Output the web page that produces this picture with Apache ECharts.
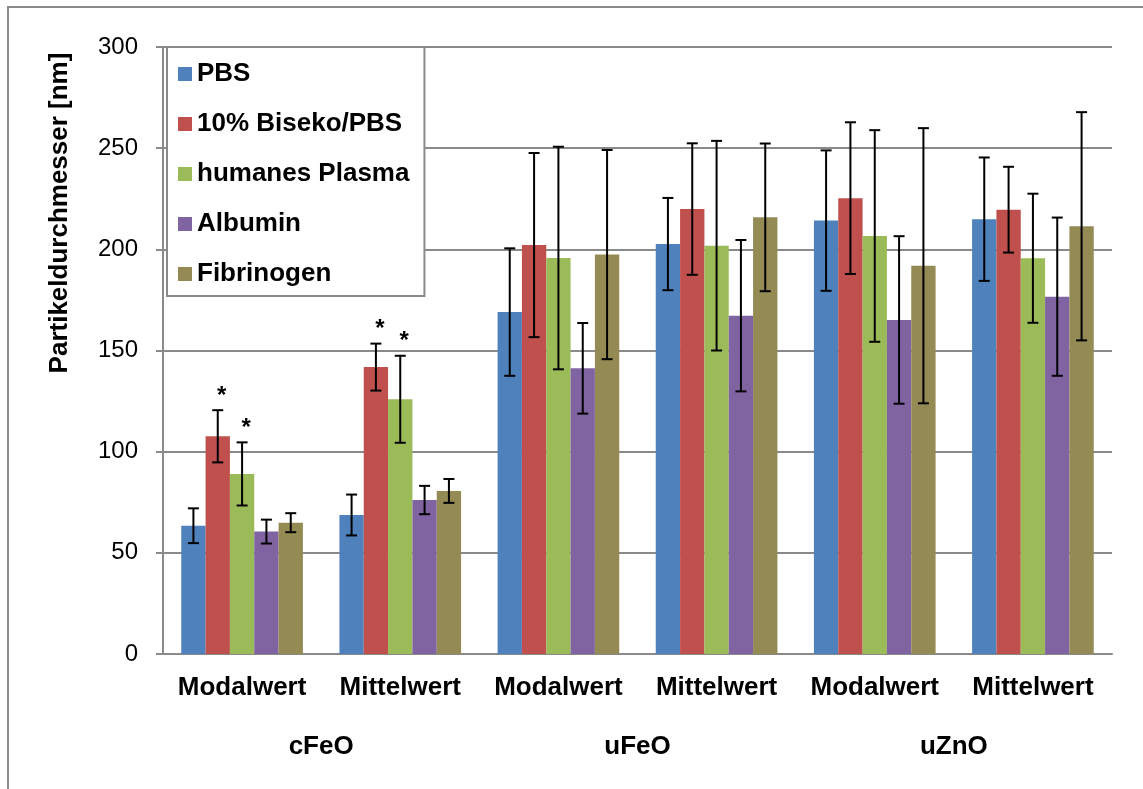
<!DOCTYPE html>
<html>
<head>
<meta charset="utf-8">
<script src="https://cdn.jsdelivr.net/npm/echarts@6/dist/echarts.min.js"></script>
<style>
  html, body { margin: 0; padding: 0; background: #fff; }
  #chart { width: 1143px; height: 789px; }
</style>
</head>
<body>
<div id="chart"></div>
<script>
// Particle diameters (nm): mode and mean per particle type and medium, with standard deviations
const categories = ['Modalwert', 'Mittelwert', 'Modalwert', 'Mittelwert', 'Modalwert', 'Mittelwert'];
const particles = ['cFeO', 'uFeO', 'uZnO'];
const seriesNames = ['PBS', '10% Biseko/PBS', 'humanes Plasma', 'Albumin', 'Fibrinogen'];
const yTicks = [0, 300, 50]; // min, max, step

const pbs = [63.4, 68.7, 169.0, 202.6, 214.2, 214.9];
const pbsSd = [8.6, 10.1, 31.5, 22.8, 34.7, 30.5];
const biseko = [107.6, 141.8, 202.1, 219.9, 225.3, 219.6];
const bisekoSd = [12.9, 11.6, 45.5, 32.5, 37.5, 21.2];
const plasma = [89.0, 125.9, 195.7, 201.8, 206.6, 195.6];
const plasmaSd = [15.6, 21.5, 55.0, 51.8, 52.3, 31.9];
const albumin = [60.5, 76.1, 141.2, 167.2, 165.1, 176.6];
const albuminSd = [5.9, 7.0, 22.4, 37.4, 41.4, 39.1];
const fibrinogen = [64.9, 80.6, 197.4, 215.8, 191.9, 211.4];
const fibrinogenSd = [4.7, 5.9, 51.7, 36.5, 68.0, 56.4];

// significant difference vs. PBS (marked with *)
const pbsSig = [0, 0, 0, 0, 0, 0];
const bisekoSig = [1, 1, 0, 0, 0, 0];
const plasmaSig = [1, 1, 0, 0, 0, 0];
const albuminSig = [0, 0, 0, 0, 0, 0];
const fibrinogenSig = [0, 0, 0, 0, 0, 0];

const means = [pbs, biseko, plasma, albumin, fibrinogen];
const sds = [pbsSd, bisekoSd, plasmaSd, albuminSd, fibrinogenSd];
const sigs = [pbsSig, bisekoSig, plasmaSig, albuminSig, fibrinogenSig];

const colors = ['#4F81BD', '#C0504D', '#9BBB59', '#8064A2', '#948A54'];
const GRAY = '#8a8a8a';
const FONT = '"Liberation Sans", Arial, sans-serif';
const CAT_GAP = 0.2308;

const chart = echarts.init(document.getElementById('chart'), null, { renderer: 'canvas' });

// error bar items: [category index, series index, mean, sd, significant]
const errData = [];
means.forEach((arr, s) => {
  arr.forEach((v, c) => errData.push([c, s, v, sds[s][c], sigs[s][c]]));
});

function renderErr(params, api) {
  const cat = api.value(0);
  const s = api.value(1);
  const mean = api.value(2);
  const sd = api.value(3);
  const sig = api.value(4);
  const n = seriesNames.length;
  const catW = api.size([1, 0])[0];
  const barW = catW * (1 - CAT_GAP) / n;
  const cx = api.coord([cat, 0])[0] + (s - (n - 1) / 2) * barW;
  const yTop = api.coord([cat, mean + sd])[1];
  const yBot = api.coord([cat, mean - sd])[1];
  const cap = 5.5;
  const st = { stroke: '#000', lineWidth: 2 };
  const children = [
    { type: 'line', shape: { x1: cx, y1: yTop, x2: cx, y2: yBot }, style: st },
    { type: 'line', shape: { x1: cx - cap, y1: yTop, x2: cx + cap, y2: yTop }, style: st },
    { type: 'line', shape: { x1: cx - cap, y1: yBot, x2: cx + cap, y2: yBot }, style: st }
  ];
  if (sig) {
    children.push({
      type: 'text',
      style: {
        text: '*', x: cx + 4, y: yTop - 14,
        textAlign: 'center', textVerticalAlign: 'middle',
        font: 'bold 24px ' + FONT, fill: '#000'
      }
    });
  }
  return { type: 'group', children };
}

const barSeries = seriesNames.map((name, i) => ({
  name,
  type: 'bar',
  data: means[i],
  barGap: '0%',
  barCategoryGap: (CAT_GAP * 100) + '%',
  itemStyle: { color: colors[i] },
  xAxisIndex: 0,
  yAxisIndex: 0
}));

const option = {
  animation: false,
  color: colors,
  textStyle: { fontFamily: FONT },
  grid: { left: 163, right: 31, top: 47, bottom: 135, containLabel: false },
  legend: {
    data: seriesNames,
    orient: 'vertical',
    left: 167,
    top: 47,
    icon: 'rect',
    itemWidth: 14,
    itemHeight: 14,
    itemGap: 24,
    padding: [14, 15, 9, 11],
    backgroundColor: '#fff',
    borderColor: GRAY,
    borderWidth: 2,
    borderRadius: 0,
    textStyle: { fontSize: 26, fontWeight: 'bold', color: '#000', fontFamily: FONT, lineHeight: 26 }
  },
  xAxis: [
    {
      type: 'category',
      data: categories,
      axisLine: { show: true, lineStyle: { color: GRAY, width: 2 } },
      axisTick: { show: false },
      axisLabel: { fontSize: 26, fontWeight: 'bold', color: '#000', margin: 21, fontFamily: FONT, interval: 0 },
      splitLine: { show: false }
    },
    {
      type: 'category',
      data: particles,
      position: 'bottom',
      axisLine: { show: false },
      axisTick: { show: false },
      axisLabel: { fontSize: 26, fontWeight: 'bold', color: '#000', margin: 80, fontFamily: FONT, interval: 0 },
      splitLine: { show: false }
    }
  ],
  yAxis: {
    type: 'value',
    min: yTicks[0],
    max: yTicks[1],
    interval: yTicks[2],
    axisLine: { show: true, lineStyle: { color: GRAY, width: 2 } },
    axisTick: { show: true, length: 7, lineStyle: { color: GRAY, width: 2 } },
    axisLabel: { fontSize: 24, color: '#000', margin: 25, fontFamily: FONT },
    splitLine: { show: true, lineStyle: { color: GRAY, width: 2 } }
  },
  graphic: [
    {
      type: 'rect',
      shape: { x: 8, y: 7, width: 1300, height: 1000 },
      style: { fill: 'none', stroke: GRAY, lineWidth: 2 },
      silent: true,
      z: -10
    },
    {
      type: 'text',
      x: 60,
      y: 213,
      rotation: Math.PI / 2,
      style: {
        text: 'Partikeldurchmesser [nm]',
        font: 'bold 26px ' + FONT,
        fill: '#000',
        textAlign: 'center',
        textVerticalAlign: 'middle'
      }
    }
  ],
  series: barSeries.concat([{
    type: 'custom',
    name: 'Standardabweichung',
    renderItem: renderErr,
    data: errData,
    dimensions: ['cat', 'series', 'mean', 'sd', 'sig'],
    encode: { x: 0, y: 2 },
    xAxisIndex: 0,
    yAxisIndex: 0,
    z: 5
  }])
};

chart.setOption(option);
</script>
</body>
</html>
